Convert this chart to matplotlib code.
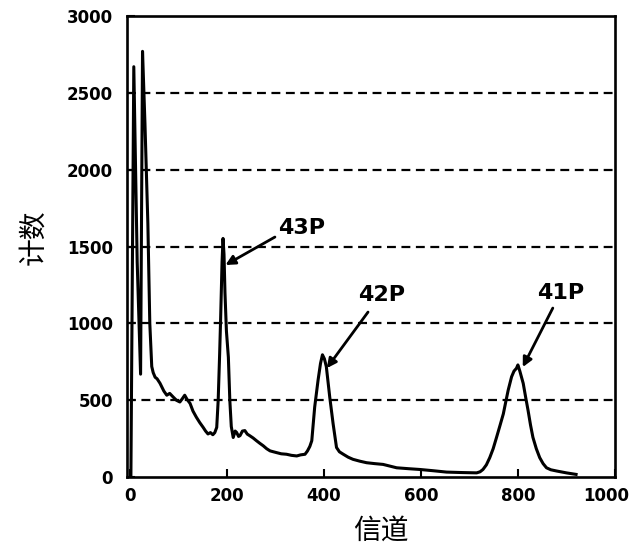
import matplotlib
matplotlib.use('Agg')
import matplotlib.pyplot as plt

# Spectrum (channel, counts)
channel = [2, 8, 15, 22, 26, 31, 37, 41, 45, 48, 52, 56, 62, 70, 76, 82, 89, 96,
           103, 108, 113, 118, 124, 130, 137, 144, 151, 156, 161, 166, 171, 175,
           179, 182, 185, 187, 190, 192, 194, 196, 199, 203, 206, 209, 213, 217,
           220, 224, 227, 232, 237, 242, 247, 254, 261, 268, 275, 282, 289, 296,
           302, 312, 323, 333, 344, 352, 361, 366, 371, 375, 381, 388, 393, 397,
           401, 405, 412, 419, 426, 432, 440, 450, 460, 474, 488, 505, 522, 536,
           550, 575, 598, 625, 653, 685, 715, 722, 728, 735, 742, 749, 756, 763,
           770, 775, 780, 787, 792, 797, 800, 804, 811, 816, 821, 826, 831, 838,
           845, 852, 859, 868, 880, 900, 920]
counts = [0, 2670, 1400, 670, 2770, 2300, 1650, 1000, 720, 680, 650, 640, 611,
          560, 533, 545, 522, 500, 489, 510, 533, 505, 480, 430, 390, 355, 324,
          300, 281, 290, 276, 290, 324, 500, 800, 1026, 1400, 1553, 1450, 1200,
          950, 780, 500, 330, 258, 300, 291, 265, 270, 300, 303, 280, 270, 255,
          237, 220, 204, 185, 171, 165, 160, 152, 149, 142, 138, 145, 149, 170,
          200, 237, 456, 632, 740, 796, 770, 719, 522, 347, 193, 165, 149, 130,
          116, 104, 94, 88, 83, 72, 61, 55, 50, 42, 33, 30, 28, 35, 50, 80, 127,
          185, 259, 335, 412, 490, 566, 653, 690, 708, 730, 690, 610, 520, 434,
          340, 259, 185, 127, 88, 61, 48, 40, 28, 18]

x_ticks = [0, 200, 400, 600, 800, 1000]
x_ticklabels = ['0', '200', '400', '600', '800', '1000']
y_ticks = [0, 500, 1000, 1500, 2000, 2500, 3000]
grid_levels = [500, 1000, 1500, 2000, 2500]

# Peak labels: (text, text position, arrow start, arrow tip)
peak_labels = ['43P', '42P', '41P']
label_pos = [(354, 1618), (518, 1184), (889, 1197)]
arrow_start = [(299, 1562), (491, 1074), (872, 1100)]
arrow_tip = [(197, 1380), (406, 709), (810, 716)]

plt.rcParams['font.family'] = ['DejaVu Sans', 'Noto Sans CJK SC']

fig = plt.figure(figsize=(6.3, 5.51), dpi=100)
ax = fig.add_axes([0.2016, 0.134, 0.7744, 0.837])

# Dashed horizontal grid
for lev in grid_levels:
    ax.axhline(lev, color='black', lw=1.6, dashes=(4, 2.5), zorder=1)

ax.plot(channel, counts, color='black', lw=2.2, zorder=3)

ax.set_xlim(-6, 1000)
ax.set_ylim(0, 3000)
ax.set_xticks(x_ticks)
# last label sits at the figure edge, draw it a bit to the left by hand
ax.set_xticklabels(x_ticklabels[:-1] + [''])
ax.set_yticks(y_ticks)
ax.tick_params(direction='in', length=6, width=1.5, labelsize=12)
ax.tick_params(axis='y', pad=10)
ax.tick_params(axis='x', pad=7)
for lab in ax.get_xticklabels() + ax.get_yticklabels():
    lab.set_fontweight('bold')
ax.annotate(x_ticklabels[-1], xy=(x_ticks[-1], 0), xytext=(-6, -7),
            textcoords='offset points', ha='center', va='top',
            fontsize=12, fontweight='bold', annotation_clip=False)
for sp in ax.spines.values():
    sp.set_linewidth(1.9)

# Peak annotations
for name, pos, start, tip in zip(peak_labels, label_pos, arrow_start, arrow_tip):
    ax.text(pos[0], pos[1], name, fontsize=16, fontweight='bold',
            ha='center', va='center')
    ax.annotate('', xy=tip, xytext=start,
                arrowprops=dict(arrowstyle='-|>', color='black', lw=2,
                                mutation_scale=14, shrinkA=0, shrinkB=0))

# Axis titles
ax.text(-0.193, 0.52, '计数', transform=ax.transAxes, rotation=90,
        fontsize=20, family=['Noto Sans CJK SC', 'DejaVu Sans'],
        ha='center', va='center')
ax.text(0.52, -0.117, '信道', transform=ax.transAxes,
        fontsize=20, family=['Noto Sans CJK SC', 'DejaVu Sans'],
        ha='center', va='center')

plt.savefig('out.png', dpi=100)
